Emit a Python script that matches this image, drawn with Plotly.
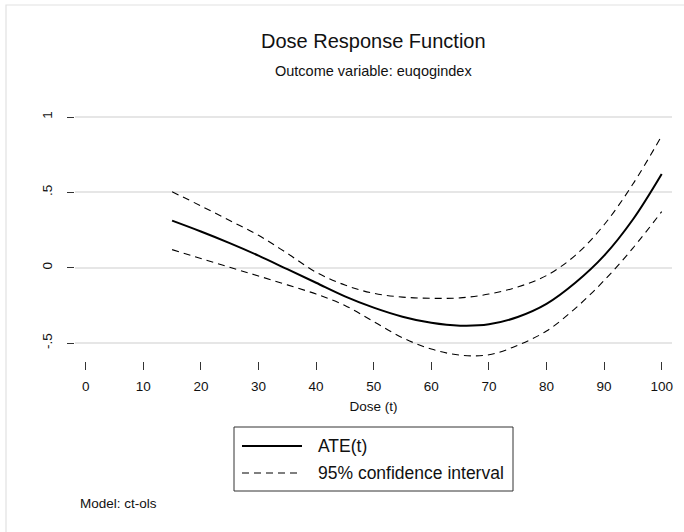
import plotly.graph_objects as go

# ---- data ----
dose = [15, 20, 25, 30, 35, 40, 45, 50, 55, 60, 65, 70, 75, 80, 85, 90, 95, 100]
ate = [0.312, 0.240, 0.163, 0.080, -0.010, -0.100, -0.190, -0.265, -0.325, -0.366,
       -0.385, -0.376, -0.327, -0.240, -0.100, 0.080, 0.320, 0.622]
ci_upper = [0.504, 0.410, 0.313, 0.215, 0.095, -0.030, -0.115, -0.170, -0.195, -0.203,
            -0.200, -0.175, -0.128, -0.052, 0.082, 0.285, 0.555, 0.875]
ci_lower = [0.120, 0.061, 0.003, -0.055, -0.114, -0.175, -0.250, -0.358, -0.465, -0.540,
            -0.580, -0.578, -0.515, -0.420, -0.270, -0.085, 0.130, 0.372]

x_ticks = [0, 10, 20, 30, 40, 50, 60, 70, 80, 90, 100]
y_ticks = [-0.5, 0, 0.5, 1]
y_tick_labels = ["-.5", "0", ".5", "1"]

title_text = "Dose Response Function"
subtitle_text = "Outcome variable: euqogindex"
x_title = "Dose (t)"
note_text = "Model: ct-ols"
name_ate = "ATE(t)"
name_ci = "95% confidence interval"

# ---- layout geometry (pixels) ----
W, H = 684, 532
L, R, T, B = 75, 672, 105, 361
X0PX, XPPU = 85.7, 5.76      # pixel of dose 0, pixels per unit
Y0PX, YPPU = 267.7, 150.7    # pixel of value 0, pixels per unit


def py(ypx):
    return (B - ypx) / (B - T)


def px(xpx):
    return (xpx - L) / (R - L)


font = "Liberation Sans, Arial, sans-serif"
ink = "#111"
dash = "7px,5px"

fig = go.Figure()
fig.add_trace(go.Scatter(x=dose, y=ate, mode="lines", name=name_ate,
                         line=dict(color="black", width=2, shape="spline", smoothing=1)))
fig.add_trace(go.Scatter(x=dose, y=ci_upper, mode="lines", name=name_ci,
                         line=dict(color="black", width=1.1, dash=dash, shape="spline", smoothing=1)))
fig.add_trace(go.Scatter(x=dose, y=ci_lower, mode="lines", name=name_ci,
                         line=dict(color="black", width=1.1, dash=dash, shape="spline", smoothing=1)))

# legend box drawn in the Stata style (long key lines)
leg_x0, leg_x1, leg_y0, leg_y1 = 234, 513, 427, 491
key_x0, key_x1, text_x = 242, 302, 316
row1, row2 = 446, 473

shapes = [
    dict(type="rect", xref="paper", yref="paper",
         x0=px(6), x1=px(W + 20), y0=py(5), y1=py(H + 20),
         line=dict(color="#e2e2e2", width=1.2), layer="below"),
    dict(type="rect", xref="paper", yref="paper",
         x0=px(leg_x0), x1=px(leg_x1), y0=py(leg_y0), y1=py(leg_y1),
         line=dict(color="#333", width=1), fillcolor="white"),
    dict(type="line", xref="paper", yref="paper",
         x0=px(key_x0), x1=px(key_x1), y0=py(row1), y1=py(row1),
         line=dict(color="black", width=2)),
    dict(type="line", xref="paper", yref="paper",
         x0=px(key_x0), x1=px(key_x1), y0=py(row2), y1=py(row2),
         line=dict(color="black", width=1.1, dash=dash)),
]

annotations = [
    dict(text=title_text, x=0.5, y=py(41), font=dict(size=20),
         xanchor="center", yanchor="middle"),
    dict(text=subtitle_text, x=0.5, y=py(71), font=dict(size=14.5),
         xanchor="center", yanchor="middle"),
    dict(text=note_text, x=px(78), y=py(503), font=dict(size=13.5),
         xanchor="left", yanchor="middle"),
    dict(text=name_ate, x=px(text_x), y=py(row1), font=dict(size=17.5),
         xanchor="left", yanchor="middle"),
    dict(text=name_ci, x=px(text_x), y=py(row2), font=dict(size=17.5),
         xanchor="left", yanchor="middle"),
]
for a in annotations:
    a.update(xref="paper", yref="paper", showarrow=False)
    a["font"].update(family=font, color=ink)

fig.update_layout(
    width=W, height=H,
    margin=dict(l=L, r=W - R, t=T, b=H - B, pad=0),
    paper_bgcolor="white", plot_bgcolor="white",
    font=dict(family=font, color=ink, size=14),
    showlegend=False,
    annotations=annotations,
    shapes=shapes,
)

fig.update_xaxes(
    range=[(L - X0PX) / XPPU, (R - X0PX) / XPPU],
    tickvals=x_ticks, ticks="outside", ticklen=8, tickcolor="#333", tickwidth=1,
    showgrid=False, zeroline=False, showline=False,
    tickfont=dict(size=13.5), ticklabelstandoff=5,
    title=dict(text=x_title, font=dict(size=13.5), standoff=8),
)
fig.update_yaxes(
    range=[(Y0PX - B) / YPPU, (Y0PX - T) / YPPU],
    tickvals=y_ticks, ticktext=y_tick_labels, tickangle=-90,
    ticks="outside", ticklen=7, tickcolor="#333", tickwidth=1,
    showgrid=True, gridcolor="#e6e6e6", gridwidth=1.5,
    zeroline=False, showline=False,
    tickfont=dict(size=13.5), ticklabelstandoff=10,
)

# the page's default body margin would shift the figure by 8px
fig.write_html("out.html", config={"displayModeBar": False},
               post_script="document.body.style.margin='0px';")
